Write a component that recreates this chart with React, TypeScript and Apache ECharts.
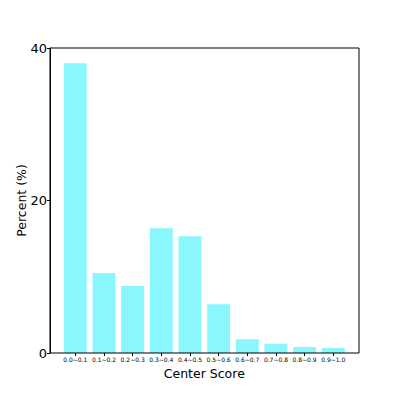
import React, { useEffect, useRef } from "react";
import * as echarts from "echarts";

const categories = ["0.0~0.1", "0.1~0.2", "0.2~0.3", "0.3~0.4", "0.4~0.5", "0.5~0.6", "0.6~0.7", "0.7~0.8", "0.8~0.9", "0.9~1.0"];
const percents = [38.0, 10.5, 8.8, 16.35, 15.3, 6.4, 1.8, 1.22, 0.79, 0.66];
const yTicks = [0, 20, 40];

export default function App() {
  const ref = useRef<HTMLDivElement>(null);
  useEffect(() => {
    if (!ref.current) return;
    const chart = echarts.init(ref.current, null, { renderer: "svg" });
    const font = "DejaVu Sans";
    chart.setOption({
      animation: false,
      textStyle: { fontFamily: font },
      grid: { left: 61, right: 51.4, top: 48, bottom: 44 },
      xAxis: {
        type: "category",
        data: categories,
        boundaryGap: true,
        axisLine: { show: false },
        axisTick: { show: true, alignWithLabel: true, length: 3, lineStyle: { color: "#000" } },
        axisLabel: { fontSize: 6, color: "#000", margin: 3, interval: 0, fontFamily: font },
        name: "Center Score",
        nameLocation: "middle",
        nameGap: 13,
        nameTextStyle: { fontSize: 12.5, color: "#000", fontFamily: font },
      },
      yAxis: {
        type: "value",
        min: 0,
        max: 40,
        interval: 20,
        offset: 11,
        splitLine: { show: false },
        axisLine: { show: true, lineStyle: { color: "#000" } },
        axisTick: { show: true, length: 3, lineStyle: { color: "#000" } },
        axisLabel: {
          fontSize: 13,
          color: "#000",
          margin: 3,
          fontFamily: font,
          formatter: (v: number) => (yTicks.includes(v) ? String(v) : ""),
        },
        name: "Percent (%)",
        nameLocation: "middle",
        nameGap: 22,
        nameMoveOverlap: false,
        nameTextStyle: { fontSize: 12.5, color: "#000", fontFamily: font },
      },
      graphic: [
        {
          type: "rect",
          shape: { x: 50, y: 48, width: 309, height: 305 },
          style: { fill: "none", stroke: "#000", lineWidth: 1 },
          silent: true,
          z: 100,
        },
      ],
      series: [
        {
          type: "bar",
          data: percents,
          barCategoryGap: "20%",
          itemStyle: { color: "#8AF6FD" },
        },
      ],
    });
    return () => chart.dispose();
  }, []);
  return <div ref={ref} style={{ width: 399, height: 397, position: "absolute", left: 0, top: 0 }} />;
}
